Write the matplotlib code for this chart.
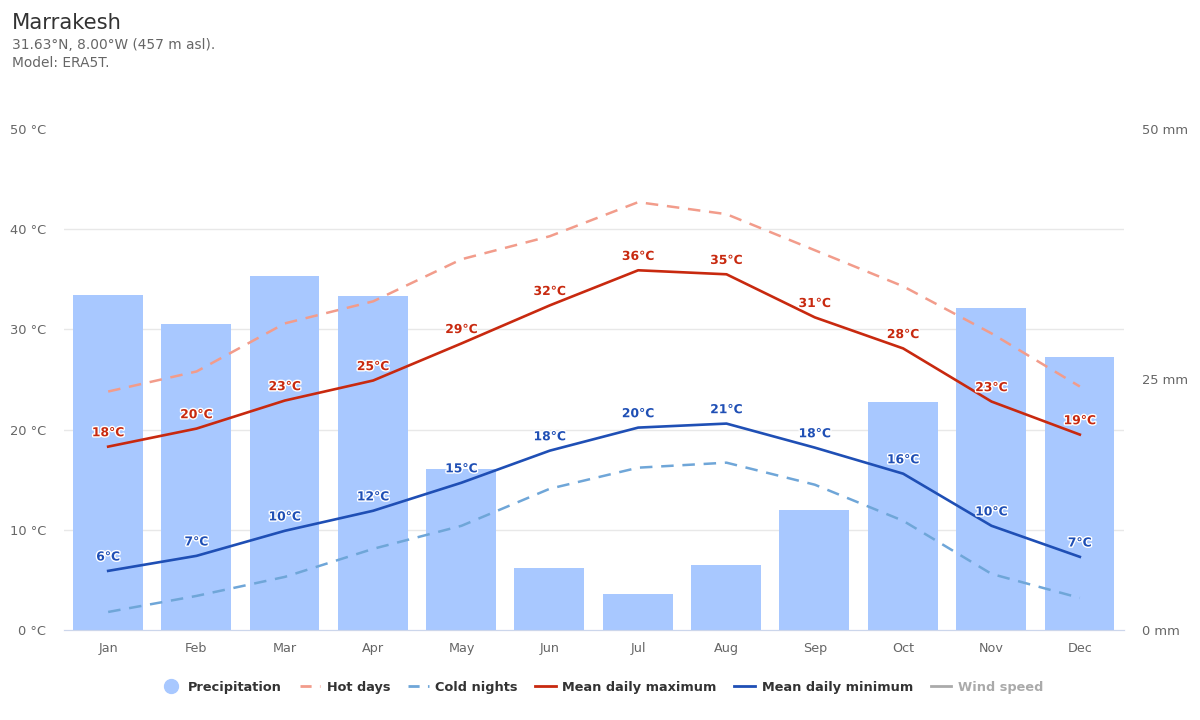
import matplotlib
matplotlib.use("Agg")
import matplotlib.pyplot as plt
import matplotlib.patheffects as pe
from matplotlib.lines import Line2D

plt.rcParams['font.family'] = ['DejaVu Sans']

months = ["Jan","Feb","Mar","Apr","May","Jun","Jul","Aug","Sep","Oct","Nov","Dec"]
precip = [33.4,30.5,35.3,33.3,16.1,6.2,3.6,6.5,12.0,22.8,32.1,27.2]
t_max = [18.3,20.1,22.9,24.9,28.6,32.4,35.9,35.5,31.2,28.1,22.8,19.5]
t_min = [5.9,7.4,9.9,11.9,14.7,17.9,20.2,20.6,18.2,15.6,10.4,7.3]
hot_days = [23.8,25.8,30.6,32.8,37.0,39.3,42.7,41.5,37.9,34.3,29.6,24.3]
cold_nights = [1.8,3.4,5.3,8.1,10.4,14.1,16.2,16.7,14.5,10.9,5.6,3.2]
max_labels = [18,20,23,25,29,32,36,35,31,28,23,19]
min_labels = [6,7,10,12,15,18,20,21,18,16,10,7]
temp_ticks = [0,10,20,30,40,50]
mm_ticks = [0,25,50]

C_BAR = "#a8c8ff"; C_MAX = "#c8290f"; C_MIN = "#1f4fb5"
C_HOT = "#f29c8b"; C_COLD = "#6fa6d8"; C_GRID = "#e8e8e8"; C_TXT = "#666666"

fig = plt.figure(figsize=(12, 7.2), dpi=100)
W, H = 1200, 720
ax = fig.add_axes([64/W, 1-630/H, 1060/W, (630-129)/H])
ax2 = ax.twinx()
ax.set_zorder(ax2.get_zorder()+1)
ax.patch.set_visible(False)

xs = list(range(12))
ax2.set_axisbelow(True)
ax2.bar([x - 0.005 for x in xs], precip, width=0.79, color=C_BAR, zorder=2)

ax.plot(xs, hot_days, color=C_HOT, lw=1.8, dashes=(5,3.5))
ax.plot(xs, cold_nights, color=C_COLD, lw=1.8, dashes=(5,3.5))
ax.plot(xs, t_max, color=C_MAX, lw=1.9)
ax.plot(xs, t_min, color=C_MIN, lw=1.9)

stroke = [pe.withStroke(linewidth=2.0, foreground="white")]
for x, y, l in zip(xs, t_max, max_labels):
    ax.annotate(f"{l}°C", (x, y), xytext=(0, 10), textcoords="offset points", ha="center", va="center",
                fontsize=8.9, color=C_MAX, fontweight="bold", path_effects=stroke, zorder=5)
for x, y, l in zip(xs, t_min, min_labels):
    ax.annotate(f"{l}°C", (x, y), xytext=(0, 10), textcoords="offset points", ha="center", va="center",
                fontsize=8.9, color=C_MIN, fontweight="bold", path_effects=stroke, zorder=5)

ax.set_xlim(-0.5, 11.5)
ax.set_ylim(0, 50)
ax2.set_ylim(0, 50)
ax.set_xticks(xs, months)
ax.set_yticks(temp_ticks, [f"{t} °C" for t in temp_ticks])
ax2.set_yticks(mm_ticks, [f"{t} mm" for t in mm_ticks])
ax2.set_yticks(temp_ticks, minor=True)
ax2.yaxis.grid(True, which="minor", color=C_GRID, lw=1.0)
ax2.yaxis.grid(False, which="major")
ax2.tick_params(axis="y", which="both", length=0)
ax2.tick_params(axis="y", labelsize=9.4, labelcolor=C_TXT, pad=13)
ax.tick_params(axis="y", length=0, labelsize=9.4, labelcolor=C_TXT, pad=13)
ax.tick_params(axis="x", length=0, labelsize=9.2, labelcolor=C_TXT, pad=8.5)
for a in (ax, ax2):
    for s in ("top", "left", "right"):
        a.spines[s].set_visible(False)
    a.spines["bottom"].set_color("#ccd6eb")

fig.text(12/W, 1-29/H, "Marrakesh", fontsize=15.2, color="#333333")
fig.text(12/W, 1-49/H, "31.63°N, 8.00°W (457 m asl).", fontsize=9.9, color=C_TXT)
fig.text(12/W, 1-67/H, "Model: ERA5T.", fontsize=9.9, color=C_TXT)

handles = [
    Line2D([], [], marker="o", ls="none", color=C_BAR, ms=10),
    Line2D([], [], color=C_HOT, lw=2, dashes=(4,3)),
    Line2D([], [], color=C_COLD, lw=2, dashes=(4,3)),
    Line2D([], [], color=C_MAX, lw=2.0),
    Line2D([], [], color=C_MIN, lw=2.0),
    Line2D([], [], color="#aaaaaa", lw=2.0),
]
names = ["Precipitation","Hot days","Cold nights","Mean daily maximum","Mean daily minimum","Wind speed"]
leg = fig.legend(handles, names, ncol=6, loc="center", bbox_to_anchor=(602/W, 1-687/H), frameon=False,
                 prop={"size": 9.3, "weight": "bold"}, handlelength=1.6, handletextpad=0.5,
                 columnspacing=1.37, labelcolor="#333333")
leg.get_texts()[-1].set_color("#aaaaaa")

fig.savefig("out.png", dpi=100)
